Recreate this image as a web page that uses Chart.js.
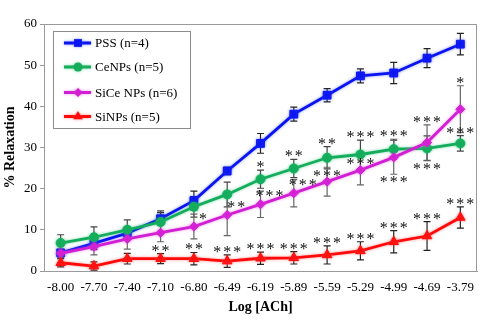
<!DOCTYPE html>
<html>
<head>
<meta charset="utf-8">
<script src="https://cdn.jsdelivr.net/npm/chart.js@4.4.1/dist/chart.umd.min.js"></script>
<style>
  html, body { margin: 0; padding: 0; background: #fff; }
  #wrap { width: 500px; height: 320px; }
</style>
</head>
<body>
<div id="wrap"><canvas id="chart"></canvas></div>
<script>
const doses = ['-8.00', '-7.70', '-7.40', '-7.10', '-6.80', '-6.49', '-6.19', '-5.89', '-5.59', '-5.29', '-4.99', '-4.69', '-3.79'];

const pssMean  = [4.4, 6.7, 9.2, 12.7, 17.1, 24.3, 31.0, 38.1, 42.7, 47.4, 48.1, 51.7, 55.1];
const pssErr   = [0.7, 1.5, 1.5, 1.5, 2.3, 0.9, 2.4, 1.7, 1.6, 1.7, 2.6, 2.3, 2.6];
const ceMean   = [6.8, 8.2, 10.0, 11.9, 15.6, 18.6, 22.3, 24.9, 27.5, 28.3, 29.6, 29.8, 31.0];
const ceErr    = [2.0, 2.5, 2.4, 2.7, 2.5, 3.0, 2.2, 2.2, 2.7, 3.5, 2.4, 3.0, 1.9];
const siceMean = [4.3, 5.9, 7.8, 9.3, 10.8, 13.6, 16.2, 18.9, 21.7, 24.5, 27.6, 31.2, 39.3];
const siceErr  = [1.0, 2.0, 2.5, 2.2, 3.0, 5.0, 3.2, 3.3, 3.5, 3.6, 4.1, 4.3, 5.7];
const siMean   = [2.0, 1.2, 3.0, 3.0, 3.0, 2.4, 3.1, 3.2, 3.9, 4.9, 7.1, 8.5, 13.0];
const siErr    = [1.0, 1.0, 1.3, 1.2, 1.5, 1.5, 1.5, 1.5, 2.2, 2.2, 2.7, 3.5, 2.6];

// significance marks and where they sit (up / down = beyond the error bar)
const pssStars  = ['', '', '', '', '', '', '', '', '', '', '', '', ''];
const pssPos    = ['', '', '', '', '', '', '', '', '', '', '', '', ''];
const ceStars   = ['', '', '', '', '', '', '*', '**', '**', '***', '***', '***', '***'];
const cePos     = ['', '', '', '', '', '', 'up', 'up', 'up', 'up', 'up', 'down', 'up'];
const siceStars = ['', '', '', '', '*', '**', '***', '***', '***', '***', '***', '***', '*'];
const sicePos   = ['', '', '', '', 'side', 'side', 'side', 'side', 'near', 'near', 'down', 'up', 'up'];
const siStars   = ['', '', '', '**', '**', '***', '***', '***', '***', '***', '***', '***', '***'];
const siPos     = ['', '', '', 'up', 'up', 'up', 'up', 'up', 'up', 'up', 'up', 'up', 'up'];

const errs  = [pssErr, ceErr, siceErr, siErr];
const stars = [pssStars, ceStars, siceStars, siStars];
const starPos = [pssPos, cePos, sicePos, siPos];

const serif = "'Liberation Serif', 'Times New Roman', serif";

function drawMarker(ctx, style, x, y, r, color) {
    ctx.save();
    ctx.fillStyle = color;
    ctx.beginPath();
    if (style === 'rect') {
        const s = r * Math.SQRT1_2;
        ctx.rect(x - s, y - s, 2 * s, 2 * s);
    } else if (style === 'circle') {
        ctx.arc(x, y, r, 0, Math.PI * 2);
    } else if (style === 'rectRot') {
        ctx.moveTo(x, y - r); ctx.lineTo(x + r, y); ctx.lineTo(x, y + r); ctx.lineTo(x - r, y);
        ctx.closePath();
    } else if (style === 'triangle') {
        ctx.moveTo(x, y - r); ctx.lineTo(x + r * 0.87, y + r * 0.5); ctx.lineTo(x - r * 0.87, y + r * 0.5);
        ctx.closePath();
    }
    ctx.fill();
    ctx.restore();
}

const glow = {
    id: 'glow',
    beforeDatasetDraw(chart, args) {
        const ds = chart.data.datasets[args.index];
        chart.ctx.save();
        chart.ctx.shadowColor = ds.glowColor;
        chart.ctx.shadowBlur = 3;
    },
    afterDatasetDraw(chart) {
        chart.ctx.restore();
    }
};

const errorBars = {
    id: 'errorBars',
    beforeDatasetsDraw(chart) {
        const ctx = chart.ctx;
        const y = chart.scales.y;
        chart.data.datasets.forEach((ds, i) => {
            const meta = chart.getDatasetMeta(i);
            ctx.save();
            ctx.strokeStyle = ds.errColor;
            ctx.lineWidth = 1.2;
            meta.data.forEach((pt, j) => {
                const e = errs[i][j];
                const top = y.getPixelForValue(ds.data[j] + e);
                const bot = y.getPixelForValue(ds.data[j] - e);
                ctx.beginPath();
                ctx.moveTo(pt.x, top); ctx.lineTo(pt.x, bot);
                ctx.moveTo(pt.x - 3.5, top); ctx.lineTo(pt.x + 3.5, top);
                ctx.moveTo(pt.x - 3.5, bot); ctx.lineTo(pt.x + 3.5, bot);
                ctx.stroke();
            });
            ctx.restore();
        });
    },
    afterDatasetsDraw(chart) {
        const ctx = chart.ctx;
        const y = chart.scales.y;
        ctx.save();
        ctx.fillStyle = '#111';
        ctx.font = '16px ' + serif;
        ctx.letterSpacing = '2px';
        ctx.textAlign = 'center';
        ctx.textBaseline = 'alphabetic';
        chart.data.datasets.forEach((ds, i) => {
            const meta = chart.getDatasetMeta(i);
            meta.data.forEach((pt, j) => {
                const s = stars[i][j];
                if (!s) return;
                const e = errs[i][j];
                let tx = pt.x + 1, ty = pt.y;
                switch (starPos[i][j]) {
                    case 'up':   ty = y.getPixelForValue(ds.data[j] + e) - 6; break;
                    case 'down': ty = y.getPixelForValue(ds.data[j] - e) + 5; break;
                    case 'side': tx = pt.x + 10; ty = pt.y - 11; break;
                    case 'near': ty = pt.y - 9; break;
                }
                ctx.fillText(s, tx, ty + 8);
            });
        });
        ctx.restore();
    }
};

const frameAndLegend = {
    id: 'frameAndLegend',
    afterDraw(chart) {
        const ctx = chart.ctx;
        const a = chart.chartArea;
        ctx.save();
        ctx.strokeStyle = '#9a9a9a';
        ctx.lineWidth = 1;
        ctx.strokeRect(Math.round(a.left) + 0.5, Math.round(a.top) + 0.5,
            Math.round(a.right - a.left) - 1, Math.round(a.bottom - a.top));

        // legend box
        ctx.fillStyle = '#fff';
        ctx.fillRect(53.5, 31.5, 137, 97);
        ctx.strokeStyle = '#8c8c8c';
        ctx.strokeRect(53.5, 31.5, 137, 97);
        ctx.font = '13px ' + serif;
        ctx.textBaseline = 'middle';
        const rows = [43, 67, 92.5, 116.5];
        chart.data.datasets.forEach((ds, i) => {
            const ry = rows[i];
            ctx.save();
            ctx.shadowColor = ds.glowColor;
            ctx.shadowBlur = 3;
            ctx.strokeStyle = ds.borderColor;
            ctx.lineWidth = 3;
            ctx.beginPath();
            ctx.moveTo(64, ry); ctx.lineTo(91, ry);
            ctx.stroke();
            drawMarker(ctx, ds.pointStyle, 78, ry, ds.pointRadius, ds.borderColor);
            ctx.restore();
            ctx.fillStyle = '#000';
            ctx.fillText(ds.label, 95, ry + 1);
        });
        ctx.restore();
    }
};

new Chart(document.getElementById('chart'), {
    type: 'line',
    data: {
        labels: doses,
        datasets: [
            { label: 'PSS (n=4)', data: pssMean, borderColor: '#0a14f0', backgroundColor: '#0a14f0',
              glowColor: 'rgba(60,80,255,0.6)', errColor: '#222', pointStyle: 'rect', pointRadius: 5.5, order: 4 },
            { label: 'CeNPs (n=5)', data: ceMean, borderColor: '#13ad5c', backgroundColor: '#13ad5c',
              glowColor: 'rgba(40,190,110,0.6)', errColor: '#444', pointStyle: 'circle', pointRadius: 4.5, order: 3 },
            { label: 'SiCe NPs (n=6)', data: siceMean, borderColor: '#d21ed2', backgroundColor: '#d21ed2',
              glowColor: 'rgba(230,80,230,0.6)', errColor: '#666', pointStyle: 'rectRot', pointRadius: 4.5, order: 2 },
            { label: 'SiNPs (n=5)', data: siMean, borderColor: '#ff0a0a', backgroundColor: '#ff0a0a',
              glowColor: 'rgba(255,80,80,0.6)', errColor: '#222', pointStyle: 'triangle', pointRadius: 5.5, order: 1 }
        ].map(d => Object.assign(d, { borderWidth: 2.8, pointBorderWidth: 1, pointBorderColor: d.borderColor, tension: 0 }))
    },
    options: {
        responsive: true,
        maintainAspectRatio: false,
        animation: false,
        layout: { padding: { top: 24, right: 23, left: 0, bottom: 0 } },
        plugins: { legend: { display: false }, tooltip: { enabled: false } },
        scales: {
            x: {
                offset: true,
                grid: { display: false, drawTicks: false },
                border: { color: '#9a9a9a' },
                ticks: { color: '#000', padding: 9, font: { family: serif, size: 13 }, maxRotation: 0, autoSkip: false },
                title: { display: true, text: 'Log [ACh]', color: '#000', padding: { top: 0, bottom: 4 },
                         font: { family: serif, size: 14, weight: 'bold' } },
                afterFit: s => { s.height = 49; }
            },
            y: {
                min: 0, max: 60,
                ticks: { stepSize: 10, color: '#000', padding: 3, font: { family: serif, size: 13 } },
                grid: { drawOnChartArea: false, drawTicks: true, tickLength: 4, color: '#9a9a9a' },
                border: { color: '#9a9a9a' },
                title: { display: true, text: '% Relaxation', color: '#000', padding: { top: 2, bottom: 0 },
                         font: { family: serif, size: 14, weight: 'bold' } },
                afterFit: s => { s.width = 44; }
            }
        }
    },
    plugins: [glow, errorBars, frameAndLegend]
});
</script>
</body>
</html>
